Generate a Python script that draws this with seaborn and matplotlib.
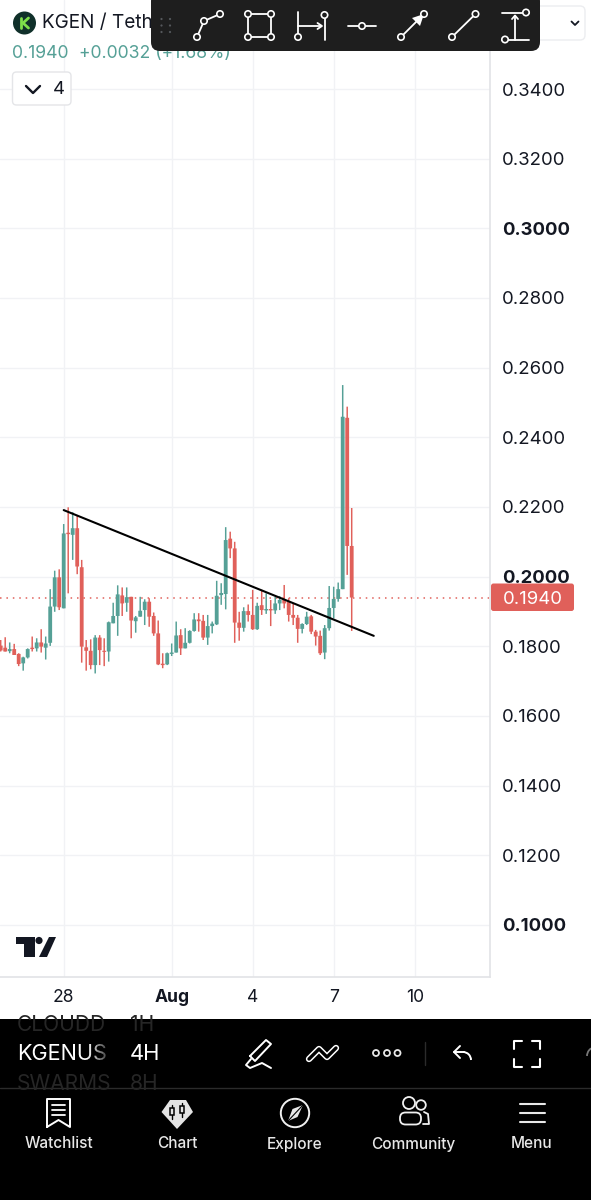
import numpy as np
import pandas as pd
import matplotlib
matplotlib.use("Agg")
import matplotlib.pyplot as plt
import seaborn as sns
from matplotlib.patches import Circle, FancyBboxPatch, Polygon, Rectangle, Arc

# -----------------------------
# Data
# -----------------------------
first_candle = -14  # candles counted from 28 Jul 00:00, 6 per day

opens = [.1802, .1796, .1786, .1792, .1778, .1751, .1768, .1796, .1794, .1811,
         .1796, .1810, .1914, .1998, .1909, .2126, .2120, .2139, .2027, .1797,
         .1787, .1746, .1825, .1787, .1785, .1866, .1887, .1946, .1925, .1942,
         .1872, .1885, .1904, .1928, .1887, .1837, .1750, .1748, .1778, .1782,
         .1832, .1794, .1810, .1844, .1877, .1873, .1825, .1858, .1863, .1947,
         .1950, .2109, .2081, .1868, .1853, .1901, .1890, .1849, .1918, .1903,
         .1907, .1903, .1923, .1935, .1928, .1890, .1882, .1850, .1864, .1886,
         .1842, .1830, .1782, .1852, .1910, .1936, .1964, .2456, .2088]
highs = [.1818, .1826, .1811, .1807, .1780, .1770, .1794, .1828, .1823, .1849,
         .1828, .1964, .2017, .2021, .2151, .2199, .2185, .2177, .2048, .1818,
         .1820, .1832, .1832, .1823, .1871, .1925, .1975, .1969, .1969, .1942,
         .1887, .1942, .1935, .1938, .1897, .1874, .1780, .1782, .1808, .1871,
         .1849, .1852, .1846, .1895, .1895, .1890, .1890, .1871, .1988, .1981,
         .2142, .2129, .2100, .1899, .1912, .1920, .1962, .1925, .1962, .1952,
         .1933, .1942, .1944, .1976, .1938, .1923, .1890, .1866, .1899, .1890,
         .1847, .1845, .1861, .1973, .1971, .1983, .2550, .2488, .2197]
lows = [.1785, .1785, .1780, .1775, .1743, .1730, .1765, .1785, .1785, .1782,
        .1762, .1801, .1899, .1904, .1909, .1952, .2048, .2007, .1753, .1730,
        .1734, .1722, .1746, .1743, .1756, .1866, .1830, .1887, .1899, .1823,
        .1839, .1885, .1861, .1856, .1830, .1746, .1737, .1746, .1772, .1782,
        .1775, .1794, .1808, .1842, .1842, .1818, .1804, .1837, .1861, .1919,
        .1906, .2053, .1810, .1816, .1842, .1871, .1847, .1847, .1890, .1893,
        .1858, .1893, .1904, .1909, .1871, .1861, .1810, .1837, .1861, .1835,
        .1802, .1775, .1763, .1845, .1880, .1928, .1964, .2005, .1844]
closes = [.1788, .1785, .1792, .1775, .1749, .1768, .1792, .1792, .1811, .1799,
          .1808, .1914, .1998, .1912, .2124, .2122, .2139, .2029, .1799, .1787,
          .1746, .1825, .1789, .1784, .1869, .1887, .1949, .1923, .1941, .1874,
          .1883, .1902, .1928, .1885, .1837, .1748, .1746, .1780, .1782, .1831,
          .1794, .1810, .1844, .1877, .1872, .1825, .1858, .1865, .1945, .1953,
          .2105, .2081, .1868, .1853, .1901, .1890, .1849, .1916, .1904, .1907,
          .1903, .1923, .1933, .1923, .1890, .1882, .1850, .1864, .1885, .1842,
          .1828, .1780, .1852, .1910, .1936, .1964, .2459, .2088, .1940]

price_ticks = [.34, .32, .30, .28, .26, .24, .22, .20, .18, .16, .14, .12, .10]
bold_prices = [.30, .20, .10]
date_ticks = [0, 24, 42, 60, 78]
date_labels = ["28", "Aug", "4", "7", "10"]
trend_x = [0, 68.9]
trend_y = [.2191, .1830]
last_price = .1940

# -----------------------------
# Style
# -----------------------------
W, H = 591, 1200
GREEN = "#55a096"
RED = "#e0605a"
GRID = "#f1f2f5"
AXIS = "#e2e3e6"

sns.set_theme(style="white")
plt.rcParams["font.family"] = ["Inter", "DejaVu Sans"]
plt.rcParams["patch.edgecolor"] = "none"


def pt(px):
    return px * 0.72


df = pd.DataFrame({"open": opens, "high": highs, "low": lows, "close": closes})
df["i"] = np.arange(len(df)) + first_candle
df["top"] = df[["open", "close"]].max(axis=1)
df["bot"] = df[["open", "close"]].min(axis=1)
df["up"] = df["close"] >= df["open"]

fig = plt.figure(figsize=(W / 100, H / 100), dpi=100, facecolor="white")

# -----------------------------
# Candles
# -----------------------------
ax = fig.add_axes([0, 1 - 977 / H, 490 / W, 977 / H])
ax.set_axisbelow(True)
ax.grid(True, color=GRID, lw=1)

for up, color in [(True, GREEN), (False, RED)]:
    part = df[df["up"] == up]
    sns.barplot(x=part["i"], y=part["high"] - part["low"], bottom=part["low"].values,
                native_scale=True, orient="x", errorbar=None, color=color, saturation=1,
                width=0.33, linewidth=0, snap=False, ax=ax, zorder=3)
    sns.barplot(x=part["i"], y=part["top"] - part["bot"], bottom=part["bot"].values,
                native_scale=True, orient="x", errorbar=None, color=color, saturation=1,
                width=0.85, linewidth=0, snap=False, ax=ax, zorder=4)

ax.axhline(last_price, color=RED, lw=1.1, ls=(0, (1, 3.2)), zorder=2)
sns.lineplot(x=trend_x, y=trend_y, color="black", lw=1.5, ax=ax, zorder=5)

# 4.5 px per candle, 3483 px per unit of price
ax.set_xlim(-63.7 / 4.5, (490 - 63.7) / 4.5)
ax.set_ylim(.34 - (977 - 89) / 3483, .34 + 89 / 3483)
ax.set_xlabel("")
ax.set_ylabel("")

ax.yaxis.tick_right()
ax.set_yticks(price_ticks)
ax.set_yticklabels([f"{p:.4f}" for p in price_ticks])
ax.tick_params(axis="y", length=0, pad=pt(12), labelsize=pt(18.5), labelcolor="#131722")
for lab, p in zip(ax.get_yticklabels(), price_ticks):
    if p in bold_prices:
        lab.set_fontweight("bold")

ax.set_xticks(date_ticks)
ax.set_xticklabels(date_labels)
ax.tick_params(axis="x", length=0, pad=pt(12), labelsize=pt(17.5), labelcolor="#131722")
ax.get_xticklabels()[1].set_fontweight("bold")

for side in ["top", "left"]:
    ax.spines[side].set_visible(False)
for side in ["bottom", "right"]:
    ax.spines[side].set_color(AXIS)
    ax.spines[side].set_linewidth(1.2)

# -----------------------------
# App chrome, drawn in pixel coordinates
# -----------------------------
ui = fig.add_axes([0, 0, 1, 1])
ui.set_xlim(0, W)
ui.set_ylim(H, 0)
ui.axis("off")
ui.patch.set_alpha(0)


def line(xs, ys, color="white", lw=1.3, z=10):
    ui.plot(xs, ys, color=color, lw=lw, zorder=z, solid_capstyle="round", solid_joinstyle="round")


def ring(x, y, r=3.2, z=12, face="#1e1e1e", edge="white", lw=1.2):
    ui.add_patch(Circle((x, y), r, fc=face, ec=edge, lw=lw, zorder=z))


def label(x, y, s, size, color="#131722", ha="left", weight="normal", z=10):
    return ui.text(x, y, s, fontsize=pt(size), color=color, ha=ha, va="center",
                   fontweight=weight, zorder=z)


def box(x0, y0, x1, y1, r, fc, ec="none", lw=1, z=5):
    ui.add_patch(FancyBboxPatch((x0 + r, y0 + r), x1 - x0 - 2 * r, y1 - y0 - 2 * r,
                                boxstyle=f"round,pad={r},rounding_size={r}",
                                fc=fc, ec=ec, lw=lw, zorder=z))


# header
ui.add_patch(Circle((24.5, 23), 11.5, fc="#10302a", ec="none", zorder=6))
line([21, 21], [18, 28], color="#7ee04a", lw=2, z=7)
line([28.5, 23, 28.5], [18, 23, 28], color="#7ee04a", lw=2, z=7)
label(42, 23, "KGEN / Tether", 19, z=6)
label(12, 54, "0.1940", 17.6, color=GREEN, z=6)
label(79, 54, "+0.0032 (+1.68%)", 17.6, color=GREEN, z=6)

box(12.5, 72, 71, 105, 4, "white", ec="#e4e5e8", z=6)
line([26, 33, 40], [86, 93, 86], color="#131722", lw=1.7, z=7)
label(53, 89, "4", 18.5, z=7)

box(530, 6, 585, 40, 5, "white", ec="#ecedf0", z=4)
line([571.5, 575, 578.5], [21.5, 25, 21.5], color="#131722", lw=1.3, z=7)

# floating drawing toolbar
box(151, -8, 540, 51, 9, "#1e1e1e", z=8)
for gx in [161.5, 170]:
    for gy in [19, 25.5, 32]:
        ui.add_patch(Circle((gx, gy), 1.1, fc="#55585c", ec="none", zorder=9))

line([197, 204, 220], [37, 21, 14])
for p in [(197, 37), (204, 21), (220, 14)]:
    ring(*p)
ui.add_patch(Rectangle((248, 14), 23, 23, fc="none", ec="white", lw=1.3, zorder=10))
for p in [(248, 14), (271, 14), (248, 37), (271, 37)]:
    ring(*p)
line([298, 298], [12, 37])
line([324.5, 324.5], [15, 40])
line([298, 321], [26, 26])
line([317.5, 322, 317.5], [23, 26, 29])
ring(298, 37)
ring(324.5, 15)
line([348, 376], [26, 26])
ring(362, 26)
line([401, 424], [37, 14])
ui.add_patch(Polygon([(424, 14), (412, 18), (420, 26)], fc="white", ec="none", zorder=10))
ring(401, 37)
ring(424, 14)
line([452, 475.5], [37, 14])
ring(452, 37)
ring(475.5, 14)
line([502, 529], [12.5, 12.5])
line([502, 529], [39.5, 39.5])
line([515, 515], [39.5, 16])
line([512, 515, 518], [19, 15.5, 19])
ring(526, 12.5)
ring(505, 39.5)

# TradingView mark
ui.add_patch(Polygon([(16, 937), (35, 937), (35, 957), (24, 957), (24, 944), (16, 944)],
                     fc="#131722", ec="none", zorder=6))
ui.add_patch(Circle((39, 940.5), 3.6, fc="#131722", ec="none", zorder=6))
ui.add_patch(Polygon([(49, 937), (56, 937), (47, 957), (39, 957)], fc="#131722", ec="none", zorder=6))

# last price tag
box(491, 583.5, 574, 611, 2.5, RED, z=7)
label(532.5, 599.5, "0.1940", 18.5, color="white", ha="center", z=8)

# bottom panel
ui.add_patch(Rectangle((0, 1019), W, 165, fc="black", ec="none", zorder=20))
box(0, 1160, W, 1210, 9, "black", z=20)
line([0, W], [1088, 1088], color="#2b2b2b", lw=1, z=21)

for s, x, y in [("CLOUDD", 17, 1025), ("1H", 130, 1025), ("SWARMS", 17, 1084), ("8H", 130, 1084)]:
    t = label(x, y, s, 21, color="#262626", z=21)
    t.set_clip_path(Rectangle((0, 1019), W, 69, transform=ui.transData))
label(17, 1054, "KGENUS", 21.7, color="white", z=21)
label(130, 1054, "4H", 22, color="white", z=21)
for n, x in enumerate(np.arange(88, 112, 3)):
    ui.add_patch(Rectangle((x, 1040), 3, 28, fc="black", ec="none", alpha=min(1, 0.1 + n * 0.11), zorder=22))

w = 22
# pen
line([250, 266, 271, 255, 250], [1056, 1040, 1044, 1061, 1056], z=w, lw=1.4)
line([251, 246, 250, 262, 271], [1059, 1065, 1068, 1063, 1068], z=w, lw=1.4)
# double chevrons
line([309, 319, 327, 336], [1059, 1049, 1057, 1048], z=w, lw=4.6)
line([309, 319, 327, 336], [1059, 1049, 1057, 1048], color="black", z=w + 1, lw=2.4)
# three dots
for x in [376, 387, 397.5]:
    ring(x, 1053, r=3, z=w, face="black", edge="#e8e8e8", lw=1.3)
line([425, 425], [1042, 1065], color="#2b2b2b", lw=1, z=w)
# undo
line([454, 464], [1052, 1052], z=w, lw=1.4)
line([460, 454, 460], [1046, 1052, 1058], z=w, lw=1.4)
ui.add_patch(Arc((463, 1060), 16, 16, theta1=270, theta2=360, color="white", lw=1.4, zorder=w))
# fullscreen corners
for x0, x1, y0, y1 in [(522, 514, 1041, 1049), (532, 540, 1041, 1049), (522, 514, 1067, 1059), (532, 540, 1067, 1059)]:
    line([x0, x1, x1], [y0, y0, y1], z=w, lw=1.5)
ui.add_patch(Arc((596, 1056), 18, 18, theta1=180, theta2=260, color="#777777", lw=1.3, zorder=w))

# nav icons
line([47, 47, 70, 70, 58.5, 47], [1127, 1099, 1099, 1127, 1120, 1127], z=w, lw=1.4)
for y in [1105, 1110, 1115]:
    line([52, 65], [y, y], z=w, lw=1.3)

ui.add_patch(Polygon([(161.5, 1112), (170, 1100), (186, 1100), (193, 1112), (177, 1129)],
                     fc="#e4e4e4", ec="none", zorder=w))
for x, y0, y1, y2, y3 in [(172, 1105, 1108, 1115, 1119), (182, 1103, 1106, 1113, 1117)]:
    line([x, x], [y0, y3], color="black", lw=1, z=w + 1)
    ui.add_patch(Rectangle((x - 2, y1), 4, y2 - y1, fc="#e4e4e4", ec="black", lw=1.1, zorder=w + 2))

ring(295, 1113, r=14.2, z=w, face="black", edge="#f0f0f0", lw=1.4)
ui.add_patch(Polygon([(303, 1105), (297.5, 1117), (288, 1121), (292.5, 1109)], fc="#e8e8e8", ec="none", zorder=w + 1))
line([288, 303], [1121, 1105], color="black", lw=0.8, z=w + 2)

ring(409, 1103, r=6, z=w, face="black", edge="#f0f0f0", lw=1.3)
ring(421, 1105, r=4.8, z=w, face="black", edge="#f0f0f0", lw=1.3)
line([424, 428, 429, 423], [1112, 1114, 1124, 1124], color="#f0f0f0", z=w, lw=1.3)
box(400, 1112.5, 421, 1124.5, 5.5, "black", ec="#f0f0f0", lw=1.3, z=w + 1)

for y in [1104, 1113, 1122]:
    line([520, 544.5], [y, y], color="#e8e8e8", z=w, lw=1.5)

for x, s in zip([59, 177, 295, 413, 532], ["Watchlist", "Chart", "Explore", "Community", "Menu"]):
    label(x, 1144, s, 15.4, color="#e8e8e8", ha="center", weight="medium", z=w)

fig.savefig("out.png", dpi=100)
